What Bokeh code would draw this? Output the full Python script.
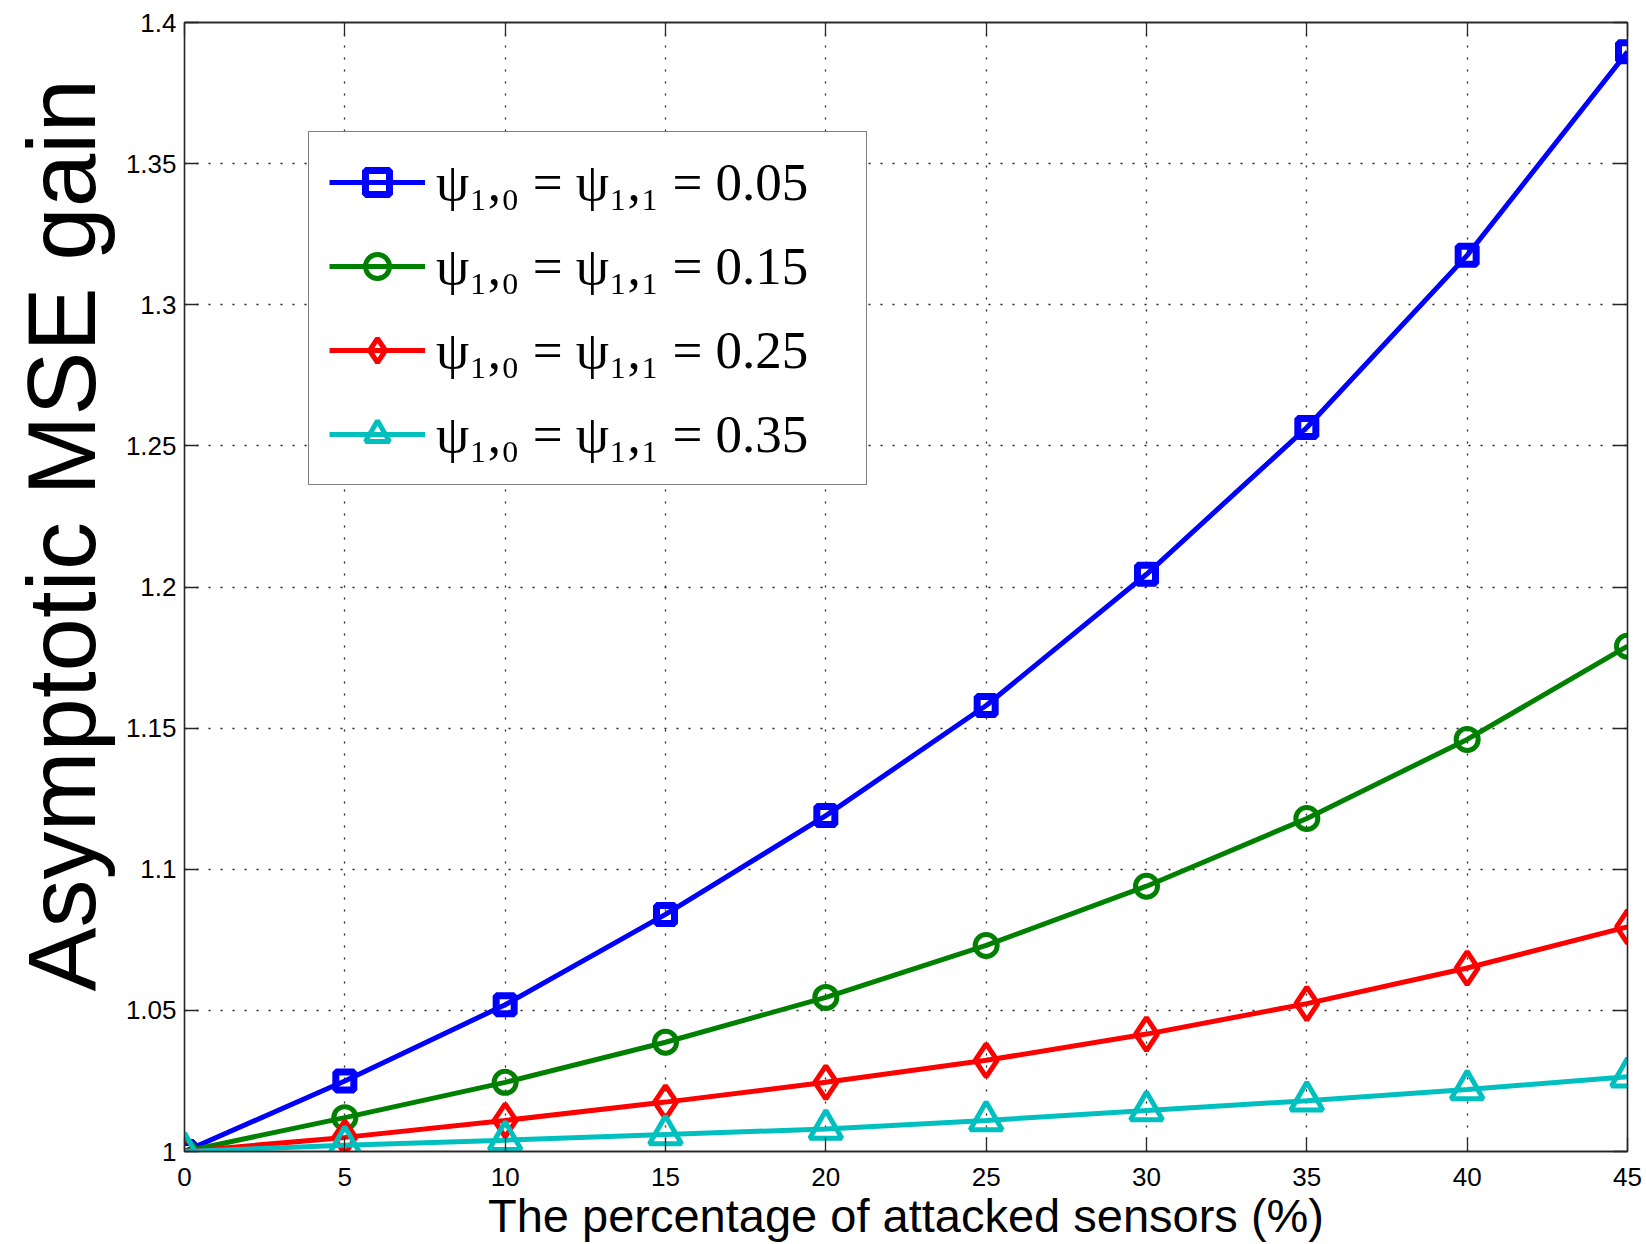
from bokeh.plotting import figure
from bokeh.models import LinearAxis, FixedTicker, Legend, LegendItem, Title, Range1d
from bokeh.embed import file_html
from bokeh.resources import INLINE

# ---- data ----
x_pct = [0, 5, 10, 15, 20, 25, 30, 35, 40, 45]
gain_005 = [1.0, 1.025, 1.052, 1.084, 1.119, 1.158, 1.2045, 1.2565, 1.3175, 1.3896]
gain_015 = [1.0, 1.012, 1.0245, 1.0387, 1.0546, 1.073, 1.094, 1.118, 1.146, 1.179]
gain_025 = [1.0, 1.005, 1.011, 1.0175, 1.0245, 1.0323, 1.0416, 1.0524, 1.065, 1.0796]
gain_035 = [1.0, 1.0022, 1.004, 1.006, 1.008, 1.011, 1.0145, 1.018, 1.022, 1.0265]
series_labels = ["ψ₁,₀ = ψ₁,₁ = 0.05", "ψ₁,₀ = ψ₁,₁ = 0.15",
                 "ψ₁,₀ = ψ₁,₁ = 0.25", "ψ₁,₀ = ψ₁,₁ = 0.35"]
x_ticks = [0, 5, 10, 15, 20, 25, 30, 35, 40, 45]
y_ticks = [1.0, 1.05, 1.1, 1.15, 1.2, 1.25, 1.3, 1.35, 1.4]
y_tick_labels = ["1", "1.05", "1.1", "1.15", "1.2", "1.25", "1.3", "1.35", "1.4"]
x_label = "The percentage of attacked sensors (%)"
y_label = "Asymptotic MSE gain"

# ---- styles ----
colors = ["#0000ff", "#008000", "#ff0000", "#00bfbf"]
markers = ["square", "circle", "diamond", "triangle"]
msizes = [18, 22, 33, 32]
mwidths = [7, 5, 5, 5]
SANS = "Liberation Sans"

p = figure(width=1646, height=1244, output_backend="svg", toolbar_location=None,
           x_range=Range1d(0, 45), y_range=Range1d(1.0, 1.4),
           min_border_left=184, min_border_right=19, min_border_top=22,
           min_border_bottom=92, background_fill_color="white",
           border_fill_color="white")
p.outline_line_color = "black"
p.outline_line_width = 1.3

for ax in p.xaxis + p.yaxis:
    ax.major_tick_in = 14
    ax.major_tick_out = 0
    ax.minor_tick_in = 0
    ax.minor_tick_out = 0
    ax.axis_line_color = "#262626"
    ax.axis_line_width = 1.3
    ax.major_tick_line_color = "#262626"
    ax.major_tick_line_width = 1.3
    ax.major_label_text_font = SANS
    ax.major_label_text_font_size = "26px"
    ax.major_label_text_color = "black"

p.xaxis.ticker = FixedTicker(ticks=x_ticks)
p.yaxis.ticker = FixedTicker(ticks=y_ticks)
p.yaxis.major_label_overrides = {t: s for t, s in zip(y_ticks, y_tick_labels)}
p.xaxis.major_label_standoff = 16
p.yaxis.major_label_standoff = 8
p.xaxis.axis_label = x_label
p.xaxis.axis_label_text_font = SANS
p.xaxis.axis_label_text_font_size = "47px"
p.xaxis.axis_label_text_font_style = "normal"
p.xaxis.axis_label_text_color = "black"
p.xaxis.axis_label_standoff = 0

# top and right axes: ticks only (box style), no labels drawn
for side in ["above", "right"]:
    ax = LinearAxis(ticker=FixedTicker(ticks=x_ticks if side == "above" else y_ticks),
                    major_tick_in=14, major_tick_out=0, minor_tick_in=0, minor_tick_out=0,
                    major_label_text_color=None, major_label_text_font_size="1px",
                    major_label_standoff=0,
                    axis_line_color="#262626", axis_line_width=1.3,
                    major_tick_line_color="#262626", major_tick_line_width=1.3)
    p.add_layout(ax, side)

p.xgrid.ticker = FixedTicker(ticks=x_ticks)
p.ygrid.ticker = FixedTicker(ticks=y_ticks)
for g in [p.xgrid, p.ygrid]:
    g.grid_line_color = "#222222"
    g.grid_line_dash = "2 10"
    g.grid_line_width = 1.3

# y label as a left title so it can sit off-centre like the original
p.add_layout(Title(text=y_label, align="left", offset=160, vertical_align="top",
                   text_font=SANS, text_font_size="96px", text_font_style="normal",
                   text_color="black", standoff=12), "left")

items = []
for ys, c, m, ms, mw, lab in zip([gain_005, gain_015, gain_025, gain_035], colors,
                                 markers, msizes, mwidths, series_labels):
    r1 = p.line(x_pct, ys, line_color=c, line_width=5)
    r2 = p.scatter(x_pct, ys, marker=m, size=ms, line_color=c, line_width=mw,
                   fill_color=None)
    items.append(LegendItem(label=lab, renderers=[r1, r2]))

legend = Legend(items=items, location=(124, 666), orientation="vertical",
                label_text_font="Liberation Serif", label_text_font_size="53px",
                label_text_color="black", label_height=60, glyph_height=60,
                glyph_width=96, label_standoff=11, spacing=24, padding=20,
                margin=0, label_width=410, border_line_color="black",
                border_line_width=1.3, background_fill_color="white",
                background_fill_alpha=1.0)
p.add_layout(legend, "center")

open("out.html", "w").write(file_html(p, INLINE))
